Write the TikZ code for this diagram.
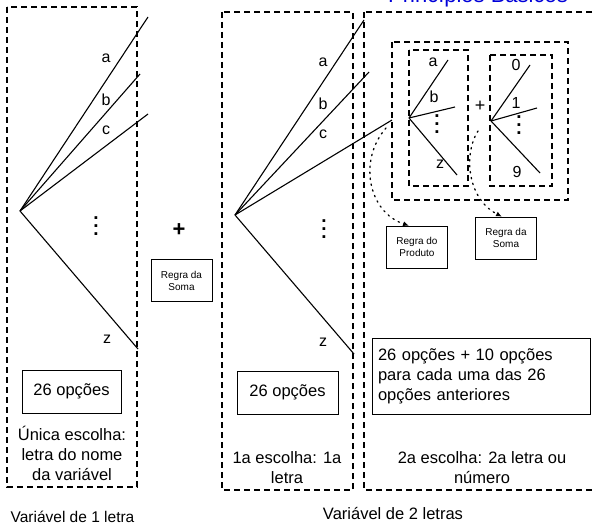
\documentclass[tikz,border=0pt]{standalone}
\usepackage{fontspec}
\setmainfont{Liberation Sans}
\usetikzlibrary{arrows.meta}

\newcommand{\pontos}{\vbox{\fontsize{19}{8}\bfseries\baselineskip=8pt\lineskiplimit=-10pt\hbox{.}\hbox{.}\hbox{.}}}

\tikzset{
  grupo/.style={line width=1.2pt, dash pattern=on 6pt off 4pt},
  ramo/.style={line width=1.1pt},
  caixa/.style={draw, line width=0.6pt, inner sep=0pt},
  texto/.style={font=\fontsize{16.5}{20}\selectfont, align=center},
  letra/.style={font=\fontsize{16}{18}\selectfont, inner sep=0pt},
  legenda/.style={anchor=base, inner sep=0pt},
  regra/.style={caixa, font=\fontsize{10}{12}\selectfont, align=center,
    minimum width=61pt, minimum height=42pt},
  seta/.style={line width=1.3pt, dash pattern=on 1.4pt off 4.6pt, line cap=round,
    -{Latex[length=6pt,width=5pt]}},
}

\begin{document}
\begin{tikzpicture}[x=1pt, y=-1pt]
  \useasboundingbox (0,0) rectangle (596,524);

  % 标题
  \node[anchor=base, font=\fontsize{22}{24}\selectfont, text=blue!85!black] (titulo) at (478,3) {Princípios Básicos};

  % 分组虚线框
  \draw[grupo] (7,7) rectangle (137,487);
  \draw[grupo] (222,12) rectangle (353,490);
  \draw[grupo] (364,12) rectangle (620,490);
  \draw[grupo] (392,42) rectangle (568,200);
  \draw[grupo] (409,50) rectangle (468,186);
  \draw[grupo] (490,55) rectangle (552,186);

  % 一个字母的树
  \coordinate (r1) at (20,211);
  \coordinate (r1a) at (148,17);
  \coordinate (r1b) at (140,74);
  \coordinate (r1c) at (148,114);
  \coordinate (r1z) at (138,349);
  \foreach \f in {a,b,c,z} \draw[ramo] (r1) -- (r1\f);
  \node[letra] (l1a) at (106,58) {a};
  \node[letra] (l1b) at (106,100) {b};
  \node[letra] (l1c) at (106,130) {c};
  \node[letra] (l1z) at (107,339) {z};
  \node[letra] (d1) at (96,226) {\pontos};

  \node[caixa, texto, minimum width=99pt, minimum height=43pt] (op1) at (71.5,391.5) {26 opções};
  \node[texto] (esc1) at (72,453) {Única escolha:\\letra do nome\\da variável};
  \node[legenda, font=\fontsize{15.5}{18}\selectfont] (var1) at (72.5,522) {Variável de 1 letra};

  % 加法原理
  \node[font=\fontsize{22}{24}\selectfont\bfseries] (mais1) at (179,230) {+};
  \node[regra] (soma1) at (181.5,280.5) {Regra da\\Soma};

  % 两个字母的树：第一个字母
  \coordinate (r2) at (235,215);
  \coordinate (r2a) at (364,20);
  \coordinate (r2b) at (369,72);
  \coordinate (r2c) at (392,120);
  \coordinate (r2z) at (354,354);
  \foreach \f in {a,b,c,z} \draw[ramo] (r2) -- (r2\f);
  \node[letra] (l2a) at (323,62) {a};
  \node[letra] (l2b) at (323,104) {b};
  \node[letra] (l2c) at (323,134) {c};
  \node[letra] (l2z) at (323,342) {z};
  \node[letra] (d2) at (324,229) {\pontos};

  \node[caixa, texto, minimum width=101pt, minimum height=43pt] (op2) at (287.5,392.5) {26 opções};
  \node[texto] (esc2) at (287,467.5) {1a escolha: 1a\\letra};

  % 第二个字母或数字
  \coordinate (r3) at (409,118);
  \coordinate (r3a) at (448,60);
  \coordinate (r3b) at (455,107);
  \coordinate (r3z) at (457,175);
  \foreach \f in {a,b,z} \draw[ramo] (r3) -- (r3\f);
  \node[letra] (l3a) at (433,62) {a};
  \node[letra] (l3b) at (434,97) {b};
  \node[letra] (l3z) at (440,164) {z};
  \node[letra] (d3) at (437,124) {\pontos};

  \node[font=\fontsize{18}{20}\selectfont] (mais2) at (480,106) {+};

  \coordinate (r4) at (491,121);
  \coordinate (r40) at (530,65);
  \coordinate (r41) at (537,108);
  \coordinate (r49) at (540,173);
  \foreach \f in {0,1,9} \draw[ramo] (r4) -- (r4\f);
  \node[letra] (l40) at (516,65) {0};
  \node[letra] (l41) at (516,103) {1};
  \node[letra] (l49) at (517,172) {9};
  \node[letra] (d4) at (519,125) {\pontos};

  % 乘法原理与加法原理
  \node[regra] (prod) at (417,247) {Regra do\\Produto};
  \node[regra] (soma2) at (506,238) {Regra da\\Soma};
  \coordinate (p1) at (386,128);
  \coordinate (p2) at (478,131);
  \draw[seta] (p1) .. controls (358,160) and (368,212) .. ([xshift=-8pt]prod.north);
  \draw[seta] (p2) .. controls (464,152) and (466,198) .. ([xshift=-4pt]soma2.north);

  \node[caixa, texto, align=left, minimum width=218pt, minimum height=76pt,
    text width=206pt] (op3) at (481,376) {26 opções + 10 opções\\para cada uma das 26\\opções anteriores};
  \node[texto] (esc3) at (482,467.5) {2a escolha: 2a letra ou\\número};
  \node[legenda, font=\fontsize{16.5}{18}\selectfont] (var2) at (393,519) {Variável de 2 letras};
\end{tikzpicture}
\end{document}
